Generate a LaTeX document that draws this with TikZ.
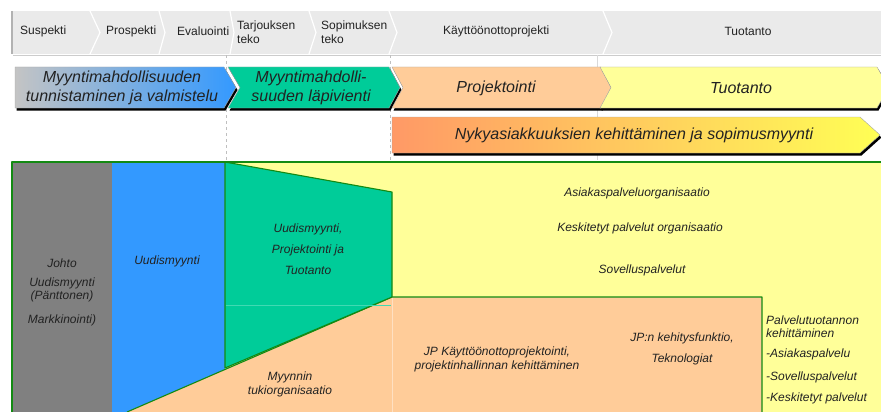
\documentclass[tikz,border=0pt]{standalone}
\usepackage{fontspec}
\setmainfont{Liberation Sans}
\usepackage{xcolor}
\usepackage{tikz}
\usetikzlibrary{shadows}

\definecolor{barfill}{HTML}{EAEAEA}
\definecolor{grayfill}{HTML}{808080}
\definecolor{bluefill}{HTML}{3399FF}
\definecolor{greenfill}{HTML}{00CC99}
\definecolor{peach}{HTML}{FFCC99}
\definecolor{paleyellow}{HTML}{FFFF99}
\definecolor{edgegreen}{HTML}{138A13}
\definecolor{salmon}{HTML}{FF9966}
\definecolor{lemon}{HTML}{FFFF55}
\definecolor{phasegray}{HTML}{C4C4C4}
\definecolor{txt}{HTML}{222222}

\tikzset{
	steplbl/.style={font=\fontsize{12}{13.5}\selectfont, text=txt, align=left, inner sep=0},
	phase/.style={draw=gray!70, line width=0.4pt, drop shadow={shadow xshift=1.5pt, shadow yshift=-2.5pt, opacity=1, fill=black}},
	phaselbl/.style={font=\fontsize{16}{19}\selectfont\itshape, text=txt, align=center, inner sep=0},
	orglbl/.style={font=\fontsize{12}{13}\selectfont\itshape, text=txt, align=center, inner sep=0},
	orgedge/.style={draw=edgegreen, line width=1.1pt, line join=round},
	sep/.style={draw=white, line width=1.2pt}
}

\begin{document}
\begin{tikzpicture}[x=1pt,y=-1pt]
	\useasboundingbox (0,0) rectangle (881,412);
	
	% vaiheet
	\fill[barfill]	(13,11) rectangle (881,54);
	\draw[gray!60, line width=1.5pt]	(12,11) -- (12,54);
	\draw[gray!40]	(13,55.5) -- (881,55.5);
	\foreach \x/\t in {90/100,159/165,230/234,309/316,389/397,603/612}
		\draw[sep]	(\x,11) -- (\t,32.5) -- (\x,54);
	
	\node[steplbl, anchor=west]	(suspekti)		at (20,31)		{Suspekti};
	\node[steplbl, anchor=west]	(prospekti)		at (106,31)		{Prospekti};
	\node[steplbl, anchor=west]	(evaluointi)	at (177,31)		{Evaluointi};
	\node[steplbl, anchor=west]	(tarjous)		at (237,32)		{Tarjouksen\\teko};
	\node[steplbl, anchor=west]	(sopimus)		at (321,32)		{Sopimuksen\\teko};
	\node[steplbl, anchor=west]	(kaytto)		at (443,31)		{Käyttöönottoprojekti};
	\node[steplbl]				(tuotanto)		at (748,31)		{Tuotanto};
	
	% apuviivat
	\draw[gray!30]	(597,55) -- (597,160);
	\draw[gray!50, dashed]	(226,55) -- (226,160);
	\draw[gray!50, dashed]	(390,55) -- (390,160);
	
	% prosessinuolet
	\path[phase, left color=phasegray, right color=bluefill]
		(15,67) -- (224,67) -- (236,87.5) -- (224,108) -- (15,108) -- cycle;
	\path[phase, fill=greenfill]
		(228,67) -- (389,67) -- (400,87.5) -- (389,108) -- (228,108) -- (240,87.5) -- cycle;
	\path[phase, fill=peach]
		(392,67) -- (601,67) -- (611,87.5) -- (601,108) -- (392,108) -- (403,87.5) -- cycle;
	\path[phase, fill=paleyellow]
		(600,67) -- (877,67) -- (889,87.5) -- (877,108) -- (600,108) -- (611,87.5) -- cycle;
	\path[phase, left color=salmon, right color=lemon]
		(392,117) -- (860,117) -- (880,135) -- (860,153) -- (392,153) -- cycle;
	
	\node[phaselbl]	(tunnistus)	at (122,88)		{Myyntimahdollisuuden\\tunnistaminen ja valmistelu};
	\node[phaselbl]	(lapivienti)	at (311,88)		{Myyntimahdolli-\\suuden läpivienti};
	\node[phaselbl]	(projektointi)	at (496,88)	{Projektointi};
	\node[phaselbl]	(tuotantovaihe)	at (741,88)	{Tuotanto};
	\node[phaselbl]	(nykyasiakkaat)	at (634,135)	{Nykyasiakkuuksien kehittäminen ja sopimusmyynti};
	
	% organisaatio
	\fill[paleyellow]	(225,162) rectangle (881,412);
	\fill[grayfill]		(12,162) rectangle (112,412);
	\fill[bluefill]		(112,162) rectangle (225,412);
	\fill[peach]		(127,412) -- (392,297) -- (762,297) -- (762,412) -- cycle;
	\draw[white!40!peach]	(392,297) -- (392,412);
	\draw[orgedge]		(127,412) -- (392,297) -- (762,297) -- (762,412);
	\path[orgedge, fill=greenfill]	(225,162) -- (392,192) -- (392,297) -- (225,368) -- cycle;
	\draw[white!25!greenfill]	(226,305) -- (391,305);
	\draw[orgedge]		(12,412) -- (12,162) -- (881,162);
	
	\node[orglbl]	(johto)		at (62,263)		{Johto};
	\node[orglbl]	(uusi1)		at (62,290)		{Uudismyynti\\(Pänttonen)};
	\node[orglbl]	(markkinointi)	at (62,320)	{Markkinointi)};
	\node[orglbl]	(uusi2)		at (167,261)	{Uudismyynti};
	\node[orglbl, font=\fontsize{12}{21}\selectfont\itshape]
					(uusiprojtuot)	at (308,249)	{Uudismyynti,\\Projektointi ja\\Tuotanto};
	\node[orglbl, font=\fontsize{12}{14}\selectfont\itshape]
					(tuki)		at (290,384)	{Myynnin\\tukiorganisaatio};
	\node[orglbl]	(asiakas)	at (637,193)	{Asiakaspalveluorganisaatio};
	\node[orglbl]	(keskitetyt)	at (640,228)	{Keskitetyt palvelut organisaatio};
	\node[orglbl]	(sovellus)	at (642,270)	{Sovelluspalvelut};
	\node[orglbl, font=\fontsize{12}{14}\selectfont\itshape]
					(jpkaytto)	at (497,359)	{JP Käyttöönottoprojektointi,\\projektinhallinnan kehittäminen};
	\node[orglbl, font=\fontsize{12}{21}\selectfont\itshape]
					(jpkehitys)	at (682,349)	{JP:n kehitysfunktio,\\Teknologiat};
	\node[orglbl, anchor=west, align=left]	(palvelu)	at (766,327)	{Palvelutuotannon\\kehittäminen};
	\node[orglbl, anchor=west]	(asiakaspalvelu)	at (766,354)	{-Asiakaspalvelu};
	\node[orglbl, anchor=west]	(sovelluspalvelut)	at (766,377)	{-Sovelluspalvelut};
	\node[orglbl, anchor=west]	(keskitetytpalvelut)	at (766,398)	{-Keskitetyt palvelut};
\end{tikzpicture}
\end{document}
